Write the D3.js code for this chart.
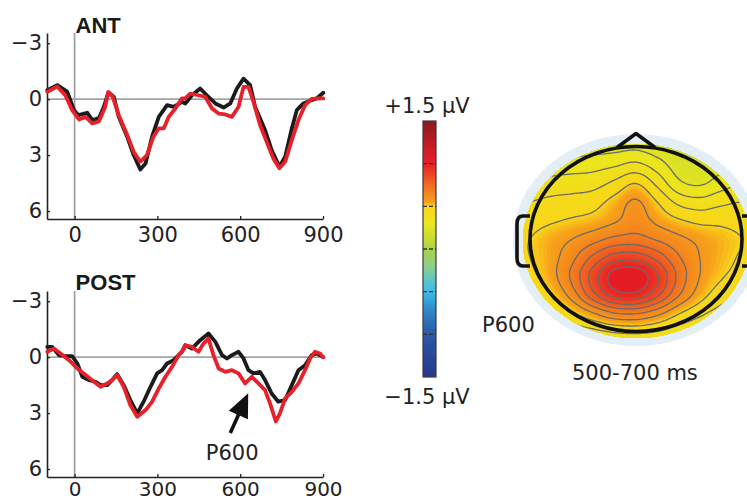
<!DOCTYPE html>
<html><head><meta charset="utf-8">
<script src="https://cdn.jsdelivr.net/npm/d3@7"></script>
<style>body{margin:0;background:#fff}svg{display:block}</style>
</head><body>
<svg id="chart" width="747" height="502"></svg>
<script>
// ---------- ERP data (ms, µV; positive plotted downward) ----------
const antBlackMs = [-99,-63,-27,-2,14,46,64,88,106,122,142,160,190,214,238,257,281,305,335,359,389,401,425,455,479,510,540,564,588,612,636,654,690,714,742,763,787,805,829,853,877,901];
const antBlackUv = [-0.48,-0.75,-0.4,0.59,0.86,0.73,1.12,1.02,0.41,-0.34,-0.13,0.95,2.0,3.0,3.77,3.45,2.0,0.95,0.32,0.41,0.14,0.23,-0.21,-0.57,-0.21,0.23,0.45,0.23,-0.57,-1.1,-0.75,0.41,1.66,2.73,3.62,3.09,1.57,0.59,0.23,0.09,-0.04,-0.34];
const antRedMs = [-99,-63,-33,-9,16,40,64,88,111,122,136,160,190,214,238,262,286,305,323,341,365,389,401,419,449,473,498,522,546,570,594,612,630,648,672,696,720,742,763,787,811,835,859,883,901];
const antRedUv = [-0.4,-0.68,-0.2,0.59,1.09,0.95,1.3,1.2,0.41,-0.39,-0.21,0.86,1.9,2.82,3.36,3.0,2.0,1.57,1.57,0.95,0.5,-0.04,-0.04,-0.3,-0.21,-0.13,0.5,0.77,0.82,0.95,0.41,-0.66,-0.66,0.14,1.39,2.29,3.18,3.71,3.36,2.2,1.12,0.32,-0.02,-0.04,-0.04];
const postBlackMs = [-99,-81,-57,-33,-9,10,28,52,76,94,118,136,154,178,202,227,250,275,299,317,335,359,389,401,425,455,485,510,534,552,570,594,612,630,648,672,690,714,738,763,787,811,835,859,877,901];
const postBlackUv = [-0.55,-0.55,-0.11,-0.05,-0.05,0.34,1.05,1.23,1.32,1.5,1.5,1.23,0.91,1.5,2.3,3.02,2.39,1.59,0.87,0.7,0.34,0.16,-0.29,-0.64,-0.46,-0.91,-1.27,-0.82,-0.11,0.07,-0.11,-0.29,0.07,0.7,0.87,0.79,1.23,1.95,2.39,2.3,1.5,0.7,0.43,-0.11,-0.2,0];
const postRedMs = [-99,-75,-51,-20,10,40,70,94,118,136,154,178,202,227,257,281,305,329,353,377,395,401,425,449,467,485,503,522,546,570,594,618,642,666,690,708,729,744,763,787,811,835,853,871,889,901];
const postRedUv = [-0.29,-0.46,-0.2,0.16,0.61,0.96,1.32,1.59,1.41,1.23,0.96,1.59,2.57,3.2,2.84,2.39,1.68,1.05,0.52,-0.11,-0.41,-0.64,-0.55,-0.29,-0.73,-1.0,-0.11,0.61,0.79,0.7,0.87,1.41,1.05,1.41,1.77,2.48,3.45,3.02,2.21,1.86,1.41,0.7,0.07,-0.29,-0.2,0];

const panelTitles = ["ANT", "POST"];
const xTicks = [0, 300, 600, 900];
const yTicks = [-3, 0, 3, 6];
const xDomain = [-100, 900];
const yDomain = [-3.55, 6.43];

// annotation (POST panel): arrow tail -> tip, label position (ms, µV)
const arrowMs = [564, 629];
const arrowUv = [4.07, 1.93];
const arrowLabel = "P600";
const arrowLabelAt = [571, 5.52];

// ---------- colour bar ----------
const cbStops = [-1.5,-1.0,-0.7,-0.5,-0.4,-0.2,0,0.1,0.3,0.5,0.55,0.75,1.0,1.2,1.5];
const cbColors = ['#283989','#2a58a8','#2f8ccc','#3cbde8','#55c3d3','#8ecf86','#a8d24a','#c5da34','#ece61e','#f9d61a','#f7a01b','#f26a22','#ea1d25','#c81e26','#8a1a1e'];
const cbTickValues = [-1.0,-0.5,0,0.5,1.0];
const cbLabels = ["+1.5 μV", "−1.5 μV"];

// ---------- topography 500-700 ms (µV on a 13x13 grid, head units) ----------
const topoU = [-1.2,-1.0,-0.8,-0.6,-0.4,-0.2,0,0.2,0.4,0.6,0.8,1.0,1.2];
const topoV = [-1.2,-1.0,-0.8,-0.6,-0.4,-0.2,0,0.2,0.4,0.6,0.8,1.0,1.2];
const topoGrid = [
 [0.10,0.12,0.14,0.15,0.16,0.17,0.17,0.16,0.14,0.13,0.13,0.12,0.10],
 [0.16,0.18,0.20,0.21,0.22,0.23,0.24,0.21,0.18,0.17,0.18,0.18,0.16],
 [0.25,0.27,0.29,0.30,0.31,0.33,0.36,0.30,0.22,0.20,0.23,0.26,0.25],
 [0.33,0.35,0.37,0.38,0.39,0.44,0.50,0.40,0.28,0.25,0.30,0.34,0.33],
 [0.40,0.42,0.44,0.45,0.47,0.53,0.59,0.50,0.40,0.37,0.40,0.42,0.40],
 [0.45,0.47,0.49,0.51,0.53,0.57,0.62,0.56,0.51,0.48,0.48,0.47,0.45],
 [0.48,0.50,0.54,0.58,0.63,0.68,0.69,0.65,0.60,0.56,0.53,0.50,0.47],
 [0.47,0.50,0.55,0.64,0.76,0.86,0.87,0.79,0.67,0.58,0.53,0.49,0.46],
 [0.44,0.48,0.55,0.68,0.86,1.02,1.04,0.91,0.72,0.58,0.51,0.47,0.44],
 [0.40,0.44,0.50,0.62,0.80,0.94,0.96,0.84,0.67,0.54,0.46,0.43,0.40],
 [0.34,0.37,0.42,0.49,0.58,0.66,0.67,0.61,0.51,0.44,0.39,0.36,0.33],
 [0.27,0.30,0.33,0.37,0.40,0.43,0.44,0.42,0.38,0.35,0.33,0.30,0.27],
 [0.21,0.24,0.26,0.28,0.30,0.31,0.31,0.31,0.30,0.28,0.26,0.24,0.21]
];
const topoLevels = [0.10,0.18,0.26,0.34,0.42,0.50,0.58,0.66,0.74,0.82,0.90,0.98];
const topoLabel = "P600";
const topoWindow = "500-700 ms";

// ================= drawing =================
const svg = d3.select("#chart");
const tickFont = "'DejaVu Sans', sans-serif";

const x = d3.scaleLinear().domain(xDomain).range([47, 323]);
const panelRanges = [[33, 219], [291, 477]];
const xLabelPad = [8.5, 5];
const xLabelSize = [21, 20];
const series = [
  [[antBlackMs, antBlackUv], [antRedMs, antRedUv]],
  [[postBlackMs, postBlackUv], [postRedMs, postRedUv]]
];
const lineColors = ["#1b1b1b", "#e8202a"];
const titleBase = [33, 290];

panelRanges.forEach((rng, p) => {
  const y = d3.scaleLinear().domain(yDomain).range(rng);
  const g = svg.append("g");
  g.append("line").attr("x1", x(xDomain[0])).attr("x2", x(xDomain[1]))
    .attr("y1", y(0)).attr("y2", y(0)).attr("stroke", "#a3a3a3").attr("stroke-width", 1.8);
  g.append("line").attr("x1", x(0)).attr("x2", x(0))
    .attr("y1", rng[0]).attr("y2", rng[1]).attr("stroke", "#a3a3a3").attr("stroke-width", 1.8);
  const ya = g.append("g").attr("transform", `translate(${x(xDomain[0])},0)`)
    .call(d3.axisLeft(y).tickValues(yTicks).tickSize(-3).tickSizeOuter(0).tickPadding(5));
  const xa = g.append("g").attr("transform", `translate(0,${rng[1]})`)
    .call(d3.axisBottom(x).tickValues(xTicks).tickFormat(d3.format("d")).tickSize(-3).tickSizeOuter(0).tickPadding(xLabelPad[p]));
  [ya, xa].forEach(a => {
    a.select(".domain").attr("stroke", "#222").attr("stroke-width", 1.6);
    a.selectAll(".tick line").attr("stroke", "#222").attr("stroke-width", 1.3);
    a.selectAll("text").attr("font-family", tickFont).attr("font-size", 21).attr("fill", "#222");
  });
  xa.selectAll("text").attr("font-size", xLabelSize[p]);
  const line = d3.line().x(d => x(d[0])).y(d => y(d[1])).curve(d3.curveLinear);
  series[p].forEach((s, k) => {
    const pts = s[0].map((t, i) => [t, s[1][i]]);
    g.append("path").datum(pts).attr("d", line).attr("fill", "none")
      .attr("stroke", lineColors[k]).attr("stroke-width", 3.8)
      .attr("stroke-linejoin", "round").attr("stroke-linecap", "round");
  });
  g.append("text").attr("x", x(0) + 1).attr("y", titleBase[p]).text(panelTitles[p])
    .attr("font-family", "'Liberation Sans', Arial, sans-serif").attr("font-weight", "bold")
    .attr("font-size", 22).attr("fill", "#1a1a1a");

  if (p === 1) {
    const tail = [x(arrowMs[0]), y(arrowUv[0])], tip = [x(arrowMs[1]), y(arrowUv[1])];
    const dx = tip[0] - tail[0], dy = tip[1] - tail[1], L = Math.hypot(dx, dy);
    const ux = dx / L, uy = dy / L, hl = 24, hw = 10.5;
    const base = [tip[0] - ux * hl, tip[1] - uy * hl];
    g.append("line").attr("x1", tail[0]).attr("y1", tail[1]).attr("x2", base[0] + ux * 2).attr("y2", base[1] + uy * 2)
      .attr("stroke", "#111").attr("stroke-width", 3.6);
    g.append("path").attr("d", `M${tip[0]},${tip[1]}L${base[0] - uy * hw},${base[1] + ux * hw}L${base[0] + uy * hw},${base[1] - ux * hw}Z`)
      .attr("fill", "#111");
    g.append("text").attr("x", x(arrowLabelAt[0])).attr("y", y(arrowLabelAt[1]))
      .attr("text-anchor", "middle").text(arrowLabel)
      .attr("font-family", tickFont).attr("font-size", 21).attr("fill", "#222");
  }
});

// ---------- colour bar ----------
const cbY = d3.scaleLinear().domain([-1.5, 1.5]).range([377, 121]);
const color = d3.scaleLinear().domain(cbStops).range(cbColors).clamp(true);
const defs = svg.append("defs");
const grad = defs.append("linearGradient").attr("id", "cbgrad")
  .attr("x1", 0).attr("y1", 1).attr("x2", 0).attr("y2", 0);
cbStops.forEach((s, i) => grad.append("stop")
  .attr("offset", (s + 1.5) / 3).attr("stop-color", cbColors[i]));
const cbX = 423, cbW = 13;
svg.append("rect").attr("x", cbX).attr("y", cbY(1.5)).attr("width", cbW)
  .attr("height", cbY(-1.5) - cbY(1.5)).attr("fill", "url(#cbgrad)")
  .attr("stroke", "#3a3a3a").attr("stroke-width", 1.2);
cbTickValues.forEach(v => svg.append("line").attr("x1", cbX).attr("x2", cbX + cbW)
  .attr("y1", cbY(v)).attr("y2", cbY(v)).attr("stroke", "#333").attr("stroke-width", 1.4)
  .attr("stroke-dasharray", "4,2"));
svg.append("text").attr("x", 427).attr("y", 113).attr("text-anchor", "middle").text(cbLabels[0])
  .attr("font-family", tickFont).attr("font-size", 21).attr("fill", "#222");
svg.append("text").attr("x", 427).attr("y", 404).attr("text-anchor", "middle").text(cbLabels[1])
  .attr("font-family", tickFont).attr("font-size", 21).attr("fill", "#222");

// ---------- topographic map ----------
const headCx = 636, headCy = 239, headRx = 106, headRy = 92.5;
const N = topoU.length, F = 97;
function cr(p0, p1, p2, p3, t) {
  return p1 + 0.5 * t * (p2 - p0 + t * (2 * p0 - 5 * p1 + 4 * p2 - p3 + t * (3 * (p1 - p2) + p3 - p0)));
}
const clampI = k => Math.max(0, Math.min(N - 1, k));
function rowAt(r, g) {
  const i = Math.floor(g), t = g - i, row = topoGrid[clampI(r)];
  return cr(row[clampI(i - 1)], row[clampI(i)], row[clampI(i + 1)], row[clampI(i + 2)], t);
}
const fine = new Array(F * F);
for (let j = 0; j < F; j++) {
  const gy = j * (N - 1) / (F - 1), jj = Math.floor(gy), ty = gy - jj;
  for (let i = 0; i < F; i++) {
    const gx = i * (N - 1) / (F - 1);
    fine[j * F + i] = cr(rowAt(jj - 1, gx), rowAt(jj, gx), rowAt(jj + 1, gx), rowAt(jj + 2, gx), ty);
  }
}
const gxS = d3.scaleLinear().domain([0.5, F - 0.5]).range([headCx + topoU[0] * headRx, headCx + topoU[N - 1] * headRx]);
const gyS = d3.scaleLinear().domain([0.5, F - 0.5]).range([headCy + topoV[0] * headRy, headCy + topoV[N - 1] * headRy]);
const proj = d3.geoTransform({ point(px, py) { this.stream.point(gxS(px), gyS(py)); } });
const gpath = d3.geoPath(proj);

svg.append("ellipse").attr("cx", headCx).attr("cy", headCy + 1).attr("rx", 123).attr("ry", 106)
  .attr("fill", "#e4eef7");
defs.append("clipPath").attr("id", "topoclip").append("ellipse")
  .attr("cx", headCx).attr("cy", headCy + 2).attr("rx", 113).attr("ry", 97);
const tg = svg.append("g").attr("clip-path", "url(#topoclip)");
const fillLevels = d3.range(-0.1, 1.2, 0.01);
const contours = d3.contours().size([F, F]);
tg.selectAll("path.band").data(contours.thresholds(fillLevels)(fine)).join("path")
  .attr("class", "band").attr("d", gpath).attr("fill", d => color(d.value + 0.005))
  .attr("stroke", d => color(d.value + 0.005)).attr("stroke-width", 0.6);
tg.selectAll("path.iso").data(contours.thresholds(topoLevels)(fine)).join("path")
  .attr("class", "iso").attr("d", gpath).attr("fill", "none")
  .attr("stroke", "#6a6a6a").attr("stroke-width", 1.3);

const hs = "#111", hw = 3.6;
svg.append("path").attr("d", `M${headCx - 19},${headCy - headRy + 1}L${headCx},${headCy - headRy - 13}L${headCx + 19},${headCy - headRy + 1}`)
  .attr("fill", "none").attr("stroke", hs).attr("stroke-width", hw).attr("stroke-linejoin", "round");
[-1, 1].forEach(s => {
  const ex = headCx + s * headRx, ox = ex + s * 13;
  svg.append("path").attr("d", `M${ex},${headCy - 23}L${ox - s * 6},${headCy - 23}Q${ox},${headCy - 23} ${ox},${headCy - 15}L${ox},${headCy + 19}Q${ox},${headCy + 27} ${ox - s * 6},${headCy + 27}L${ex},${headCy + 27}`)
    .attr("fill", "none").attr("stroke", hs).attr("stroke-width", hw).attr("stroke-linejoin", "round");
});
svg.append("ellipse").attr("cx", headCx).attr("cy", headCy).attr("rx", headRx).attr("ry", headRy)
  .attr("fill", "none").attr("stroke", hs).attr("stroke-width", hw);

svg.append("text").attr("x", 482).attr("y", 332).text(topoLabel)
  .attr("font-family", tickFont).attr("font-size", 21).attr("fill", "#222");
svg.append("text").attr("x", 572).attr("y", 380).text(topoWindow)
  .attr("font-family", tickFont).attr("font-size", 21).attr("fill", "#222");
</script>
</body></html>
